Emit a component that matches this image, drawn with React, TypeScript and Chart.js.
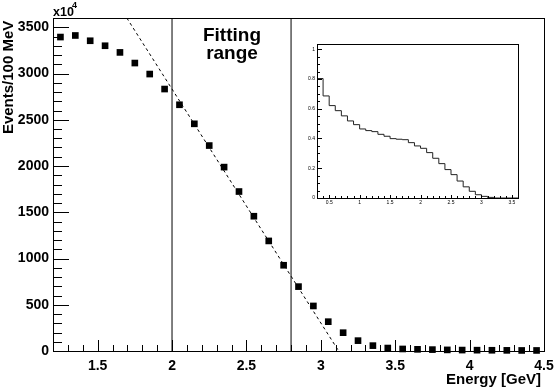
import React, { useEffect, useRef } from 'react';
import { Chart, registerables } from 'chart.js';

Chart.register(...registerables);

// ---------- main plot data ----------
const energyBins = [
  1.25, 1.35, 1.45, 1.55, 1.65, 1.75, 1.85, 1.95, 2.05, 2.15, 2.25,
  2.35, 2.45, 2.55, 2.65, 2.75, 2.85, 2.95, 3.05, 3.15, 3.25, 3.35,
  3.45, 3.55, 3.65, 3.75, 3.85, 3.95, 4.05, 4.15, 4.25, 4.35, 4.45,
];
const eventCounts = [
  3394, 3411, 3354, 3300, 3228, 3113, 2994, 2832, 2662, 2456, 2221,
  1988, 1724, 1457, 1190, 927, 696, 487, 317, 198, 112, 58,
  32, 22, 18, 15, 12, 10, 9, 8, 7, 6, 6,
];
const fitLineX = [1.696, 3.12];
const fitLineY = [3600, 0];
const fittingRangeEdges = [2.0, 2.8];

const X_MIN = 1.2;
const X_MAX = 4.5;
const Y_MIN = 0;
const Y_MAX = 3600;
const xTickValues = [1.5, 2, 2.5, 3, 3.5, 4, 4.5];
const xTickLabels = ['1.5', '2', '2.5', '3', '3.5', '4', '4.5'];
const yTickValues = [0, 500, 1000, 1500, 2000, 2500, 3000, 3500];
const yTickLabels = ['0', '500', '1000', '1500', '2000', '2500', '3000', '3500'];

// ---------- inset data ----------
const insetBinEdges = [
  0.3, 0.4, 0.5, 0.6, 0.7, 0.8, 0.9, 1.0, 1.1, 1.2, 1.3, 1.4, 1.5, 1.6,
  1.7, 1.8, 1.9, 2.0, 2.1, 2.2, 2.3, 2.4, 2.5, 2.6, 2.7, 2.8, 2.9, 3.0,
  3.1, 3.2, 3.3, 3.4, 3.5, 3.6,
];
const insetValues = [
  1.0, 0.803, 0.686, 0.621, 0.587, 0.552, 0.518, 0.493, 0.464, 0.453,
  0.446, 0.428, 0.415, 0.399, 0.395, 0.392, 0.372, 0.35, 0.334, 0.305,
  0.267, 0.231, 0.191, 0.157, 0.114, 0.075, 0.045, 0.022, 0.011, 0.004,
  0.0, 0.0, 0.0,
];
const INSET_X_MIN = 0.3;
const INSET_X_MAX = 3.6;
const INSET_Y_MIN = 0;
const INSET_Y_MAX = 1.035;
const insetXTickValues = [0.5, 1, 1.5, 2, 2.5, 3, 3.5];
const insetXTickLabels = ['0.5', '1', '1.5', '2', '2.5', '3', '3.5'];
const insetYTickValues = [0, 0.2, 0.4, 0.6, 0.8, 1];
const insetYTickLabels = ['0', '0.2', '0.4', '0.6', '0.8', '1'];

const FONT = '"Liberation Sans", Arial, Helvetica, sans-serif';

function drawFrameAndTicks(
  ctx: any,
  area: any,
  xr: [number, number],
  yr: [number, number],
  xTickStep: number,
  xMajorEvery: number,
  xFirstIndex: number,
  xCount: number,
  xLens: [number, number],
  yTickStep: number,
  yMajorEvery: number,
  yCount: number,
  yLens: [number, number],
) {
  const l = area.left, r = area.right, t = area.top, b = area.bottom;
  const L = Math.round(l), R = Math.round(r), T = Math.round(t), B = Math.round(b);
  ctx.save();
  ctx.setLineDash([]);
  ctx.globalAlpha = 1;
  ctx.fillStyle = '#000000';
  ctx.fillRect(L, T, R - L + 1, 1);
  ctx.fillRect(L, B, R - L + 1, 1);
  ctx.fillRect(L, T, 1, B - T + 1);
  ctx.fillRect(R, T, 1, B - T + 1);
  for (let k = 0; k <= yCount; k++) {
    const v = yr[0] + k * yTickStep;
    const py = Math.round(b - ((v - yr[0]) / (yr[1] - yr[0])) * (b - t));
    const len = k % yMajorEvery === 0 ? yLens[0] : yLens[1];
    ctx.fillRect(L + 1, py, len, 1);
  }
  for (let k = 0; k <= xCount; k++) {
    const idx = xFirstIndex + k;
    const v = idx * xTickStep;
    const px = Math.round(l + ((v - xr[0]) / (xr[1] - xr[0])) * (r - l));
    const len = idx % xMajorEvery === 0 ? xLens[0] : xLens[1];
    ctx.fillRect(px, B - len, 1, len);
  }
  ctx.restore();
}

const mainDecor = {
  id: 'mainDecor',
  afterDraw(chart: any) {
    const ctx = chart.ctx;
    drawFrameAndTicks(ctx, chart.chartArea, [X_MIN, X_MAX], [Y_MIN, Y_MAX], 0.1, 5, 12, 33, [11, 6], 100, 5, 36, [15, 8]);

    ctx.save();
    ctx.fillStyle = '#000';
    ctx.textAlign = 'left';
    ctx.textBaseline = 'alphabetic';
    ctx.font = `bold 12.5px ${FONT}`;
    ctx.fillText('x10', 53, 15.5);
    ctx.font = `bold 9px ${FONT}`;
    ctx.fillText('4', 72, 7.5);

    ctx.font = `bold 19px ${FONT}`;
    ctx.textAlign = 'center';
    ctx.fillText('Fitting', 232, 41);
    ctx.fillText('range', 232, 58.5);

    ctx.font = `bold 15px ${FONT}`;
    ctx.textAlign = 'right';
    ctx.fillText('Energy [GeV]', 541, 384);

    ctx.translate(13, 20.7);
    ctx.rotate(-Math.PI / 2);
    ctx.textAlign = 'right';
    ctx.fillText('Events/100 MeV', 0, 0);
    ctx.restore();
  },
};

const insetDecor = {
  id: 'insetDecor',
  afterDraw(chart: any) {
    drawFrameAndTicks(chart.ctx, chart.chartArea, [INSET_X_MIN, INSET_X_MAX], [INSET_Y_MIN, INSET_Y_MAX], 0.1, 5, 3, 33, [3, 2], 0.05, 4, 20, [4, 2]);
  },
};

export default function App() {
  const mainRef = useRef<HTMLCanvasElement | null>(null);
  const insetRef = useRef<HTMLCanvasElement | null>(null);

  useEffect(() => {
    const points = energyBins.map((x, i) => ({ x, y: eventCounts[i] }));
    const fitPts = fitLineX.map((x, i) => ({ x, y: fitLineY[i] }));
    const rangeSets = fittingRangeEdges.map((e) => ({
      data: [{ x: e, y: Y_MIN }, { x: e, y: Y_MAX }],
      showLine: true,
      borderColor: '#000',
      borderWidth: 1,
      pointRadius: 0,
      fill: false,
    }));

    const mainChart = new Chart(mainRef.current as HTMLCanvasElement, {
      type: 'scatter',
      data: {
        datasets: [
          { data: fitPts, showLine: true, borderColor: '#000', borderWidth: 1, borderDash: [3, 3], pointRadius: 0, fill: false } as any,
          ...(rangeSets as any[]),
          { data: points, pointStyle: 'rect', pointRadius: 4.7, backgroundColor: '#000', borderWidth: 0, clip: false } as any,
        ],
      },
      options: {
        animation: false,
        responsive: false,
        events: [],
        layout: { padding: { top: 18, right: 10, left: 0, bottom: 0 } },
        plugins: { legend: { display: false }, tooltip: { enabled: false } },
        scales: {
          x: {
            type: 'linear', min: X_MIN, max: X_MAX,
            grid: { display: false, drawTicks: false },
            border: { display: false },
            ticks: { font: { family: FONT, size: 14, weight: 'bold' }, color: '#000', padding: 7, maxRotation: 0, autoSkip: false, callback: (_v: any, i: number) => xTickLabels[i] },
            afterBuildTicks: (s: any) => { s.ticks = xTickValues.map((v) => ({ value: v })); },
            afterFit: (s: any) => { s.height = 36; s.paddingLeft = 0; s.paddingRight = 0; },
          },
          y: {
            type: 'linear', min: Y_MIN, max: Y_MAX,
            grid: { display: false, drawTicks: false },
            border: { display: false },
            ticks: { font: { family: FONT, size: 14, weight: 'bold' }, color: '#000', padding: 4, autoSkip: false, callback: (_v: any, i: number) => yTickLabels[i] },
            afterBuildTicks: (s: any) => { s.ticks = yTickValues.map((v) => ({ value: v })); },
            afterFit: (s: any) => { s.width = 53; s.paddingTop = 0; s.paddingBottom = 0; },
          },
        },
      } as any,
      plugins: [mainDecor],
    });

    const histPts = insetBinEdges.map((x, i) => ({
      x,
      y: i < insetValues.length ? insetValues[i] : insetValues[insetValues.length - 1],
    }));

    const insetChart = new Chart(insetRef.current as HTMLCanvasElement, {
      type: 'scatter',
      data: {
        datasets: [
          { data: histPts, showLine: true, stepped: 'after', borderColor: '#222', borderWidth: 1, pointRadius: 0, fill: false } as any,
        ],
      },
      options: {
        animation: false,
        responsive: false,
        events: [],
        layout: { padding: { top: 8, right: 6, left: 0, bottom: 0 } },
        plugins: { legend: { display: false }, tooltip: { enabled: false } },
        scales: {
          x: {
            type: 'linear', min: INSET_X_MIN, max: INSET_X_MAX,
            grid: { display: false, drawTicks: false },
            border: { display: false },
            ticks: { font: { family: FONT, size: 5 }, color: '#000', padding: 2, maxRotation: 0, autoSkip: false, callback: (_v: any, i: number) => insetXTickLabels[i] },
            afterBuildTicks: (s: any) => { s.ticks = insetXTickValues.map((v) => ({ value: v })); },
            afterFit: (s: any) => { s.height = 14; s.paddingLeft = 0; s.paddingRight = 0; },
          },
          y: {
            type: 'linear', min: INSET_Y_MIN, max: INSET_Y_MAX,
            grid: { display: false, drawTicks: false },
            border: { display: false },
            ticks: { font: { family: FONT, size: 5 }, color: '#000', padding: 2, autoSkip: false, callback: (_v: any, i: number) => insetYTickLabels[i] },
            afterBuildTicks: (s: any) => { s.ticks = insetYTickValues.map((v) => ({ value: v })); },
            afterFit: (s: any) => { s.width = 21; s.paddingTop = 0; s.paddingBottom = 0; },
          },
        },
      } as any,
      plugins: [insetDecor],
    });

    return () => {
      mainChart.destroy();
      insetChart.destroy();
    };
  }, []);

  return (
    <div style={{ position: 'absolute', left: 0, top: 0, width: 554, height: 387, background: '#fff' }}>
      <canvas ref={mainRef} width={554} height={387} style={{ position: 'absolute', left: 0, top: 0 }} />
      <canvas ref={insetRef} width={228} height={176} style={{ position: 'absolute', left: 296, top: 36 }} />
    </div>
  );
}
